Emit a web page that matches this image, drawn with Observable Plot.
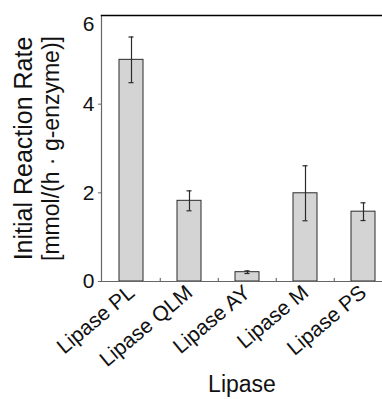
<!DOCTYPE html>
<html><head><meta charset="utf-8">
<script src="https://cdn.jsdelivr.net/npm/d3@7"></script>
<script src="https://cdn.jsdelivr.net/npm/@observablehq/plot@0.6"></script>
<style>body{margin:0;background:#fff} svg{display:block}</style>
</head><body><div id="chart"></div>
<script>
const lipases = ["Lipase PL", "Lipase QLM", "Lipase AY", "Lipase M", "Lipase PS"];
const rates = [5.0, 1.82, 0.21, 1.99, 1.575];
const errors = [0.515, 0.225, 0.03, 0.62, 0.2];
const yTicks = [0, 2, 4];
const yTopTick = [6];
const yLabelLine1 = "Initial Reaction Rate";
const yLabelLine2 = "[mmol/(h \u00b7 g-enzyme)]";
const xLabel = "Lipase";

const data = lipases.map((name, i) => ({name, rate: rates[i], err: errors[i]}));
const W = 382, H = 399, mL = 101, mT = 15, mB = 118;
const xRange = [101, 393];
const pIn = 0.59, pOut = 0.29;
const band = d3.scaleBand().domain(lipases).range(xRange).paddingInner(pIn).paddingOuter(pOut);
const step = band.step(), bw = band.bandwidth();
const capInset = (bw - 5) / 2;
const font = "'Liberation Sans', Arial, Helvetica, sans-serif";
const ink = "#2a2a2a";

const chart = Plot.plot({
  width: W, height: H,
  marginLeft: mL, marginRight: 0, marginTop: mT, marginBottom: mB,
  style: {fontFamily: font, background: "#fff", color: "#111", overflow: "hidden"},
  x: {domain: lipases, range: xRange, paddingInner: pIn, paddingOuter: pOut},
  y: {domain: [0, 6]},
  marks: [
    Plot.barY(data, {x: "name", y: "rate", fill: "#d4d4d4", stroke: ink, strokeWidth: 1}),
    Plot.ruleX(data, {x: "name", y1: d => d.rate - d.err, y2: d => d.rate + d.err, stroke: ink, strokeWidth: 1.2}),
    Plot.tickY(data, {x: "name", y: d => d.rate + d.err, insetLeft: capInset, insetRight: capInset, stroke: ink, strokeWidth: 1.2}),
    Plot.tickY(data, {x: "name", y: d => d.rate - d.err, insetLeft: capInset, insetRight: capInset, stroke: ink, strokeWidth: 1.2}),
    Plot.ruleX(lipases.slice(1), {x: d => d, y1: 0, y2: 0.07, dx: -step / 2, stroke: "#555"}),
    Plot.frame({anchor: "left", stroke: "#666", strokeWidth: 1.2}),
    Plot.frame({anchor: "bottom", stroke: "#666", strokeWidth: 1.2}),
    Plot.frame({anchor: "top", stroke: "#000", strokeWidth: 1.5}),
    Plot.axisY({ticks: yTicks, tickFormat: d => String(d), tickSize: 3, tickPadding: 4, fontSize: 21, label: null, stroke: "#666", fill: "#111"}),
    Plot.axisY({ticks: yTopTick, tickFormat: d => String(d), tickSize: 0, tickPadding: 7, dy: 9, fontSize: 21, label: null, fill: "#111"}),
    Plot.axisX({tickSize: 0, tickRotate: -40, tickPadding: 8, fontSize: 21, label: null, fill: "#111"}),
    Plot.axisY({ticks: [], label: yLabelLine1, labelArrow: "none", labelAnchor: "center", labelOffset: 87, fontSize: 25, fill: "#111"}),
    Plot.axisY({ticks: [], label: yLabelLine2, labelArrow: "none", labelAnchor: "center", labelOffset: 59, fontSize: 23, fill: "#111"}),
    Plot.text([xLabel], {frameAnchor: "bottom", dy: 110, fontSize: 23, fill: "#111"})
  ]
});
document.getElementById("chart").appendChild(chart);
</script>
</body></html>
